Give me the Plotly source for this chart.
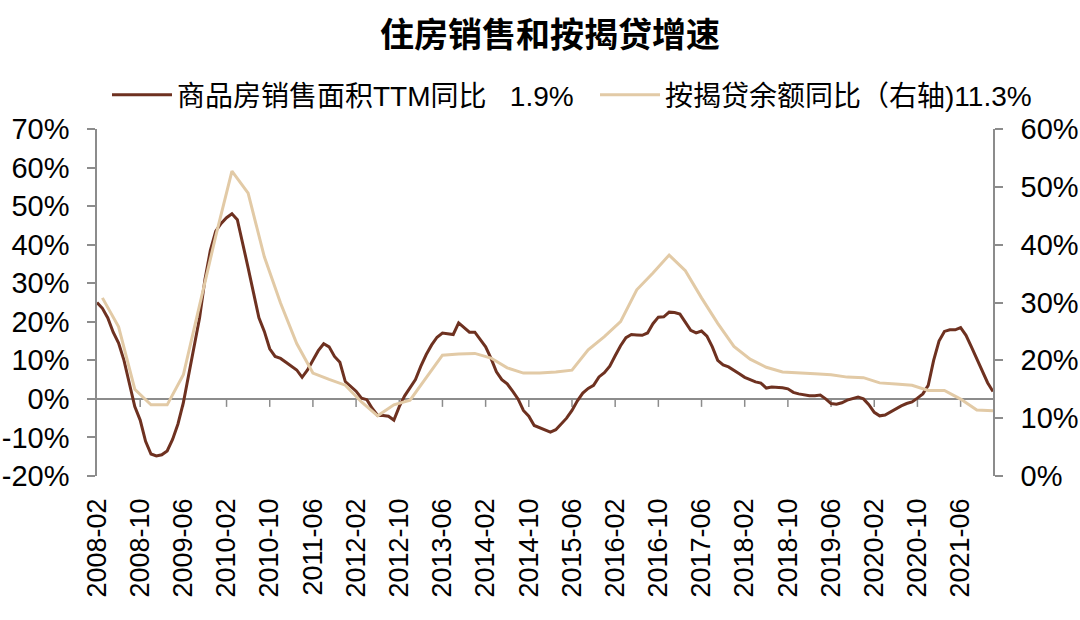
import pandas as pd
import plotly.graph_objects as go

# monthly categories 2008-02 .. 2021-12
months = [d.strftime("%Y-%m") for d in pd.date_range("2008-02-01", "2021-12-01", freq="MS")]
tick_labels = months[::8]

# 商品房销售面积TTM同比 (%), monthly, left axis
sales_yoy = [
    25.0, 23.5, 21.0, 17.3, 14.5, 10.0, 4.0, -2.0, -5.5, -11.0,
    -14.3, -14.8, -14.5, -13.5, -10.5, -6.5, -1.0, 6.5, 14.0, 21.0,
    31.0, 38.5, 43.5, 45.5, 47.0, 48.0, 46.5, 40.5, 34.0, 27.5,
    21.0, 17.5, 13.0, 11.0, 10.5, 9.5, 8.5, 7.5, 5.6, 7.5,
    10.0, 12.5, 14.3, 13.5, 11.0, 9.5, 4.5, 3.2, 2.0, 0.2,
    -0.2, -2.5, -4.3, -4.3, -4.5, -5.5, -2.0, 0.8, 2.8, 5.0,
    8.5, 11.5, 14.0, 16.0, 17.1, 16.9, 16.7, 19.7, 18.4, 17.3,
    17.3, 15.5, 13.5, 10.5, 7.0, 5.0, 3.9, 2.0, 0.0, -3.0,
    -4.5, -6.9, -7.5, -8.2, -8.6, -8.0, -6.6, -5.0, -3.0, -0.5,
    1.5, 2.7, 3.5, 5.7, 6.8, 8.5, 11.2, 13.8, 15.9, 16.7,
    16.6, 16.5, 17.1, 19.5, 21.2, 21.3, 22.5, 22.4, 22.0, 20.0,
    17.8, 17.1, 17.6, 16.3, 13.5, 10.0, 8.8, 8.3, 7.5, 6.5,
    5.6, 4.9, 4.4, 4.1, 2.8, 3.1, 3.0, 2.9, 2.6, 1.7,
    1.3, 1.0, 0.8, 0.8, 1.0, 0.0, -1.2, -1.4, -1.0, -0.3,
    0.1, 0.5, 0.0, -1.5, -3.5, -4.4, -4.2, -3.4, -2.5, -1.8,
    -1.2, -0.8, 0.2, 1.3, 3.5, 10.0, 15.0, 17.5, 17.9, 17.9,
    18.5, 16.5, 13.5, 10.5, 7.2, 4.2, 1.9,
]

# 按揭贷余额同比 (%), quarter ends, right axis
mortgage_months = months[1::3]
mortgage_yoy = [
    30.8, 25.8, 15.0, 12.3, 12.3, 17.5, 29.5, 41.5, 52.7, 48.9,
    37.9, 29.9, 22.9, 17.8, 16.7, 15.7, 12.8, 10.4, 12.3, 13.1,
    17.0, 20.9, 21.1, 21.2, 20.4, 18.7, 17.8, 17.8, 18.0, 18.3,
    21.8, 24.1, 26.7, 32.2, 35.1, 38.2, 35.5, 30.8, 26.4, 22.4,
    20.2, 18.8, 18.0, 17.9, 17.7, 17.5, 17.1, 17.0, 16.1, 15.9,
    15.7, 14.8, 14.8, 13.3, 11.4, 11.3,
]

# axis ticks (hyphen minus, as in the source)
left_ticks = [-20, -10, 0, 10, 20, 30, 40, 50, 60, 70]
left_ticktext = [f"{v}%" for v in left_ticks]
right_ticks = [0, 10, 20, 30, 40, 50, 60]
right_ticktext = [f"{v}%" for v in right_ticks]

sales_name = "商品房销售面积TTM同比\u00a0\u00a0\u00a01.9%"
mortgage_name = "按揭贷余额同比（右轴)11.3%"

brown = "#6E3120"
beige = "#E2CAA6"
axis_grey = "#8C8C8C"

fig = go.Figure()
fig.add_trace(go.Scatter(x=months, y=sales_yoy, mode="lines", name=sales_name,
                         line=dict(color=brown, width=3), legend="legend", showlegend=True))
fig.add_trace(go.Scatter(x=mortgage_months, y=mortgage_yoy, mode="lines", name=mortgage_name,
                         line=dict(color=beige, width=3), yaxis="y2", legend="legend2",
                         showlegend=True))

# tick marks sitting on the zero line (category axis crosses at 0)
for lab in tick_labels[1:]:
    i = months.index(lab)
    fig.add_shape(type="line", xref="x", yref="y", x0=i, x1=i,
                  ysizemode="pixel", yanchor=0, y0=0, y1=-8,
                  line=dict(color=axis_grey, width=1.5), layer="below")

yaxis_style = dict(ticks="outside", ticklen=8, tickcolor=axis_grey, tickwidth=1.5,
                   showline=True, linecolor=axis_grey, linewidth=1.5,
                   showgrid=False, tickmode="array",
                   tickfont=dict(size=29, color="black"), ticklabelstandoff=12)

legend_style = dict(orientation="h", xref="container", xanchor="left",
                    y=1 - 95 / 620, yref="container", yanchor="middle",
                    font=dict(size=28), itemwidth=60, bgcolor="rgba(0,0,0,0)")

fig.update_layout(
    width=1080, height=620,
    showlegend=True,
    margin=dict(l=97, r=87, t=129, b=144, autoexpand=False),
    paper_bgcolor="white", plot_bgcolor="white",
    font=dict(family="Liberation Sans, Noto Sans CJK SC", color="black"),
    title=dict(text="<b>住房销售和按揭贷增速</b>", x=550 / 1080, xanchor="center",
               y=1 - 35 / 620, yanchor="middle",
               font=dict(size=34, family="Noto Sans CJK SC", color="black")),
    legend=dict(x=107 / 1080, **legend_style),
    legend2=dict(x=595 / 1080, **legend_style),
    xaxis=dict(type="category", categoryorder="array", categoryarray=months,
               range=[0, len(months) - 1], tickmode="array", tickvals=tick_labels,
               tickangle=-90, ticks="", showline=False, showgrid=False,
               tickfont=dict(size=27, color="black"), ticklabelstandoff=16),
    yaxis=dict(range=[-20, 70], tickvals=left_ticks, ticktext=left_ticktext,
               zeroline=True, zerolinecolor=axis_grey, zerolinewidth=1.5, **yaxis_style),
    yaxis2=dict(range=[0, 60], tickvals=right_ticks, ticktext=right_ticktext,
                overlaying="y", side="right", zeroline=False, **yaxis_style),
)

# page body has a default 8px margin; drop it so the figure sits at the window origin
fig.write_html("out.html", config={"displayModeBar": False},
               post_script="document.body.style.margin='0px';")
